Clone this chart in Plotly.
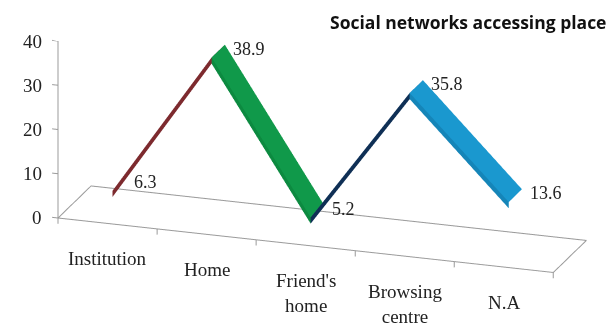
import plotly.graph_objects as go

categories = ["Institution", "Home", "Friend's<br>home", "Browsing<br>centre", "N.A"]
values = [6.3, 38.9, 5.2, 35.8, 13.6]
value_labels = ["6.3", "38.9", "5.2", "35.8", "13.6"]
y_ticks = [0, 10, 20, 30, 40]
segment_colors = ["#6b1b1f", "#10994a", "#1a4a7a", "#1a98cf"]
segment_edge_colors = ["#7d2a2e", "#0c8a40", "#0f2f55", "#1585b8"]
title = "Social networks accessing place"

D0, D1 = 0.15, 0.55   # ribbon depth extent
T = 1.4               # ribbon thickness (value units)
SERIF = "Liberation Serif, Times New Roman, serif"
GRAY = "#9a9a9a"

fig = go.Figure()

n = len(categories)
# floor outline
fx = [-0.5, n - 0.5, n - 0.5, -0.5, -0.5]
fy = [0, 0, 1, 1, 0]
fig.add_trace(go.Scatter3d(x=fx, y=fy, z=[0] * 5, mode="lines",
                           line=dict(color=GRAY, width=2),
                           hoverinfo="skip", showlegend=False))
# category tick marks on the front edge
for b in [k - 0.5 for k in range(n + 1)]:
    fig.add_trace(go.Scatter3d(x=[b, b], y=[0, 0], z=[0, -1.3], mode="lines",
                               line=dict(color=GRAY, width=2),
                               hoverinfo="skip", showlegend=False))
# value axis line and ticks
fig.add_trace(go.Scatter3d(x=[-0.5, -0.5], y=[0, 0], z=[0, max(y_ticks)], mode="lines",
                           line=dict(color=GRAY, width=2),
                           hoverinfo="skip", showlegend=False))
for t in y_ticks:
    fig.add_trace(go.Scatter3d(x=[-0.5, -0.56], y=[0, 0], z=[t, t], mode="lines",
                               line=dict(color=GRAY, width=2),
                               hoverinfo="skip", showlegend=False))

# ribbons: top face + front face per segment
for i in range(n - 1):
    v0, v1 = values[i], values[i + 1]
    xs = [i, i + 1, i + 1, i, i, i + 1]
    ys = [D0, D0, D1, D1, D0, D0]
    zs = [v0, v1, v1, v0, v0 - T, v1 - T]
    fig.add_trace(go.Mesh3d(
        x=xs, y=ys, z=zs,
        i=[0, 0, 0, 0], j=[1, 2, 1, 5], k=[2, 3, 5, 4],
        facecolor=[segment_colors[i], segment_colors[i],
                   segment_edge_colors[i], segment_edge_colors[i]],
        flatshading=True,
        lighting=dict(ambient=1, diffuse=0, specular=0, roughness=1, fresnel=0),
        hoverinfo="skip", showlegend=False))

annotations = []
for i, (v, lab) in enumerate(zip(values, value_labels)):
    annotations.append(dict(x=i, y=D1, z=v, text=lab, showarrow=False,
                            xanchor="left", yanchor="middle", xshift=6, yshift=-4,
                            font=dict(family=SERIF, size=18, color="#222")))
for i, c in enumerate(categories):
    annotations.append(dict(x=i, y=0, z=0, text=c, showarrow=False,
                            xanchor="center", yanchor="top", yshift=-23,
                            font=dict(family=SERIF, size=19, color="#222")))
for t in y_ticks:
    annotations.append(dict(x=-0.5, y=0, z=t, text=str(t), showarrow=False,
                            xanchor="right", yanchor="middle", xshift=-14,
                            font=dict(family=SERIF, size=19, color="#222")))

hidden = dict(visible=False)
fig.update_layout(
    width=609, height=325,
    margin=dict(l=0, r=0, t=0, b=0),
    paper_bgcolor="white",
    scene=dict(
        domain=dict(x=[0, 1], y=[0, 1]),
        xaxis=dict(hidden, range=[-0.6, n - 0.5]),
        yaxis=dict(hidden, range=[-0.1, 1.0]),
        zaxis=dict(hidden, range=[-2, 40]),
        aspectmode="manual",
        aspectratio=dict(x=3.28, y=0.70, z=1.21),
        camera=dict(eye=dict(x=0.4433, y=-1.5311, z=0.4449),
                    center=dict(x=-0.0542, y=-0.0529, z=-0.0947),
                    up=dict(x=0, y=0, z=1),
                    projection=dict(type="orthographic")),
        annotations=annotations,
    ),
    annotations=[dict(x=0.998, y=0.932, xref="paper", yref="paper", text="<b>" + title + "</b>",
                      showarrow=False, xanchor="right", yanchor="middle",
                      font=dict(family="Open Sans, sans-serif", size=17.5, color="#111"))],
)

fig.write_html("out.html")
